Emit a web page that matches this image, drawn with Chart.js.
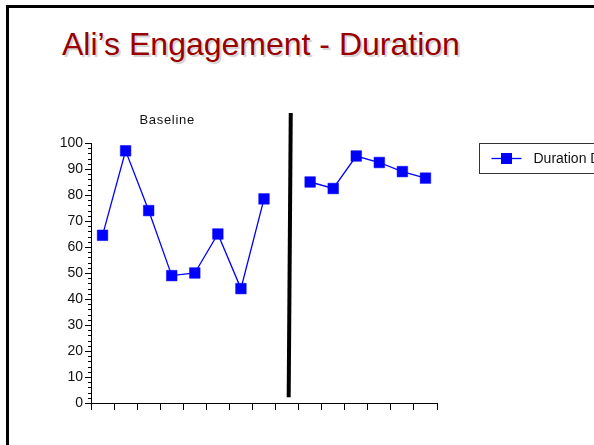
<!DOCTYPE html>
<html>
<head>
<meta charset="utf-8">
<script src="https://cdn.jsdelivr.net/npm/chart.js@4.4.1/dist/chart.umd.min.js"></script>
<style>
  html, body { margin: 0; padding: 0; background: #fff; overflow: hidden; }
  #slide { position: relative; width: 594px; height: 445px; overflow: hidden; }
  #frame { position: absolute; left: 6px; top: 5px; width: 700px; height: 500px;
           border-left: 3px solid #000; border-top: 3px solid #000; }
  #heading { position: absolute; left: 62px; top: 26px; margin: 0;
             font: 32px "Liberation Sans", Arial, sans-serif; color: #990000;
             text-shadow: 2px 2px 1px rgba(0,0,0,0.18); white-space: nowrap; font-weight: normal; }
  #wrap { position: absolute; left: 0; top: 0; width: 594px; height: 445px; }
</style>
</head>
<body>
<div id="slide">
  <div id="frame"></div>
  <h1 id="heading">Ali’s Engagement - Duration</h1>
  <div id="wrap"><canvas id="chart" width="594" height="445"></canvas></div>
</div>
<script>
// Sessions 1-15; session 9 is the phase change (no measurement)
const sessions = [1, 2, 3, 4, 5, 6, 7, 8, 9, 10, 11, 12, 13, 14, 15];
const durationPercent = [64.5, 97, 74, 49, 50, 65, 44, 78.5, null, 85, 82.5, 95, 92.5, 89, 86.5];
const yTickValues = [0, 10, 20, 30, 40, 50, 60, 70, 80, 90, 100];
const seriesLabel = 'Duration Data';
const phaseLabel = 'Baseline';
// Phase-change line endpoints in axis units (session scale, percent)
const phaseLineX = [8.66, 8.57];
const phaseLineY = [111.5, 2.2];
const phaseLabelX = 3.3;

const BLUE = '#0000ff';

const durationPoints = sessions.map((s, i) => ({ x: s - 0.5, y: durationPercent[i] }));
const phasePoints = phaseLineX.map((x, i) => ({ x: x, y: phaseLineY[i] }));

// Minor y ticks, phase label and boxed legend
const slideDecor = {
  id: 'slideDecor',
  afterDraw(chart) {
    const ctx = chart.ctx;
    const y = chart.scales.y;
    const x = chart.scales.x;
    const area = chart.chartArea;
    ctx.save();
    // minor ticks every 2 units
    ctx.strokeStyle = '#000';
    ctx.lineWidth = 1;
    ctx.beginPath();
    for (let v = y.min; v <= y.max; v += 2) {
      if (v % 10 === 0) continue;
      const py = Math.round(y.getPixelForValue(v)) + 0.5;
      ctx.moveTo(area.left - 3, py);
      ctx.lineTo(area.left, py);
    }
    ctx.stroke();

    // phase label
    ctx.fillStyle = '#111';
    ctx.font = '13px "Liberation Sans", Arial, sans-serif';
    ctx.letterSpacing = '0.7px';
    ctx.textAlign = 'center';
    ctx.textBaseline = 'alphabetic';
    ctx.fillText(phaseLabel, x.getPixelForValue(phaseLabelX), area.top - 19);
    ctx.letterSpacing = '0px';

    // legend box
    const ds = chart.data.datasets[0];
    const lx = area.right + 42.5, ly = area.top + 0.5, lh = 30;
    ctx.strokeStyle = '#333';
    ctx.lineWidth = 1;
    ctx.strokeRect(lx, ly, 300, lh);
    const cy = ly + lh / 2;
    ctx.strokeStyle = ds.borderColor;
    ctx.lineWidth = 1.3;
    ctx.beginPath();
    ctx.moveTo(lx + 12, cy);
    ctx.lineTo(lx + 42, cy);
    ctx.stroke();
    ctx.fillStyle = ds.pointBackgroundColor;
    ctx.fillRect(lx + 21.5, cy - 5.5, 11, 11);
    ctx.fillStyle = '#111';
    ctx.font = '14px "Liberation Sans", Arial, sans-serif';
    ctx.textAlign = 'left';
    ctx.textBaseline = 'middle';
    ctx.fillText(ds.label, lx + 54, cy + 1);
    ctx.restore();
  }
};

new Chart(document.getElementById('chart'), {
  type: 'line',
  data: {
    datasets: [
      {
        label: seriesLabel,
        data: durationPoints,
        borderColor: BLUE,
        backgroundColor: BLUE,
        borderWidth: 1.3,
        pointStyle: 'rect',
        pointRadius: 7.5,
        pointHoverRadius: 7.5,
        pointBackgroundColor: BLUE,
        pointBorderColor: BLUE,
        pointBorderWidth: 0.5,
        tension: 0,
        spanGaps: false
      },
      {
        label: 'phase',
        data: phasePoints,
        borderColor: '#000',
        borderWidth: 4,
        pointRadius: 0,
        tension: 0,
        clip: false
      }
    ]
  },
  options: {
    responsive: false,
    animation: false,
    events: [],
    layout: { padding: { left: 31, top: 143, right: 157, bottom: 0 } },
    plugins: { legend: { display: false }, tooltip: { enabled: false }, title: { display: false } },
    scales: {
      x: {
        type: 'linear',
        min: 0,
        max: sessions.length,
        ticks: { stepSize: 1, callback: () => '', font: { size: 1 }, padding: 0 },
        grid: { drawOnChartArea: false, tickLength: 7, color: '#000', tickColor: '#000' },
        border: { display: true, color: '#000', width: 1 },
        afterFit: s => { s.height = 42; }
      },
      y: {
        type: 'linear',
        min: 0,
        max: 100,
        afterBuildTicks: s => { s.ticks = yTickValues.map(v => ({ value: v })); },
        ticks: {
          color: '#111',
          padding: 2,
          font: { family: '"Liberation Sans", Arial, sans-serif', size: 14 },
          callback: v => String(v)
        },
        grid: { drawOnChartArea: false, tickLength: 6, color: '#000', tickColor: '#000' },
        border: { display: true, color: '#000', width: 1 },
        afterFit: s => { s.width = 60; }
      }
    }
  },
  plugins: [slideDecor]
});
</script>
</body>
</html>
